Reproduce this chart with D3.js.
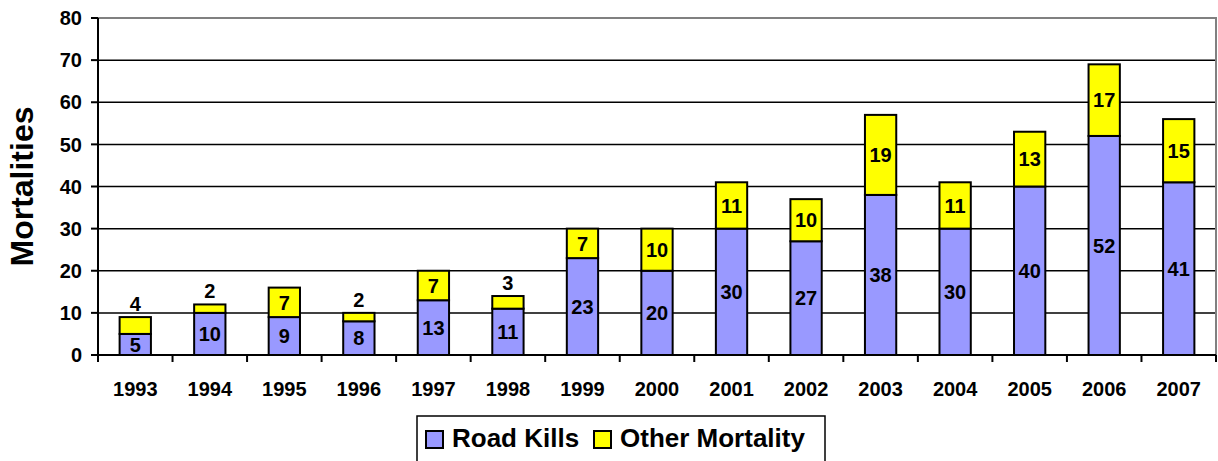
<!DOCTYPE html>
<html>
<head>
<meta charset="utf-8">
<script src="https://cdn.jsdelivr.net/npm/d3@7"></script>
<style>
  body { margin: 0; background: #fff; }
  text { font-family: "Liberation Sans", Arial, sans-serif; font-weight: bold; fill: #000; }
</style>
</head>
<body>
<div id="chart"></div>
<script>
// Data
const years = ['1993', '1994', '1995', '1996', '1997', '1998', '1999', '2000',
               '2001', '2002', '2003', '2004', '2005', '2006', '2007'];
const roadKills = [5, 10, 9, 8, 13, 11, 23, 20, 30, 27, 38, 30, 40, 52, 41];
const otherMortality = [4, 2, 7, 2, 7, 3, 7, 10, 11, 10, 19, 11, 13, 17, 15];
const yTicks = [0, 10, 20, 30, 40, 50, 60, 70, 80];

const width = 1218, height = 461;
const margin = { left: 98, right: 2, top: 18, bottom: 106 };
const innerW = width - margin.left - margin.right;
const innerH = height - margin.top - margin.bottom;

const svg = d3.select('#chart').append('svg')
    .attr('width', width)
    .attr('height', height);

const g = svg.append('g')
    .attr('transform', `translate(${margin.left},${margin.top})`);

const x = d3.scaleBand().domain(years).range([0, innerW]).paddingInner(0.58).paddingOuter(0.29);
const y = d3.scaleLinear().domain([0, 80]).range([innerH, 0]);

// Gridlines
g.selectAll('.grid')
    .data(yTicks.filter(d => d > 0 && d < 80))
    .enter().append('line')
    .attr('x1', 0).attr('x2', innerW)
    .attr('y1', d => y(d)).attr('y2', d => y(d))
    .attr('stroke', '#000').attr('stroke-width', 1.5);

// Plot border top/right (grey)
g.append('path')
    .attr('d', `M0,${y(80)}H${innerW}V${innerH}`)
    .attr('fill', 'none').attr('stroke', '#808080').attr('stroke-width', 2);

// Stacked data
const stacked = years.map((yr, i) => ({
    year: yr, road: roadKills[i], other: otherMortality[i]
}));

const bw = x.bandwidth();
const labelSize = '20px';

// Road kill bars
g.selectAll('.road')
    .data(stacked)
    .enter().append('rect')
    .attr('x', d => x(d.year))
    .attr('y', d => y(d.road))
    .attr('width', bw)
    .attr('height', d => y(0) - y(d.road))
    .attr('fill', '#9999ff')
    .attr('stroke', '#000').attr('stroke-width', 2);

// Other mortality bars
g.selectAll('.other')
    .data(stacked)
    .enter().append('rect')
    .attr('x', d => x(d.year))
    .attr('y', d => y(d.road + d.other))
    .attr('width', bw)
    .attr('height', d => y(d.road) - y(d.road + d.other))
    .attr('fill', '#ffff00')
    .attr('stroke', '#000').attr('stroke-width', 2);

// Labels
g.selectAll('.roadLabel')
    .data(stacked)
    .enter().append('text')
    .attr('x', d => x(d.year) + bw / 2)
    .attr('y', d => (y(0) + y(d.road)) / 2)
    .attr('dy', '0.36em')
    .attr('text-anchor', 'middle')
    .style('font-size', labelSize)
    .text(d => d.road);

g.selectAll('.otherLabel')
    .data(stacked)
    .enter().append('text')
    .attr('x', d => x(d.year) + bw / 2)
    .attr('y', d => d.other < 5
        ? y(d.road + d.other) - 6
        : (y(d.road) + y(d.road + d.other)) / 2)
    .attr('dy', d => d.other < 5 ? 0 : '0.36em')
    .attr('text-anchor', 'middle')
    .style('font-size', labelSize)
    .text(d => d.other);

// Y axis
g.append('line')
    .attr('x1', 0).attr('x2', 0).attr('y1', 0).attr('y2', innerH)
    .attr('stroke', '#000').attr('stroke-width', 2);
g.selectAll('.ytick')
    .data(yTicks)
    .enter().append('line')
    .attr('x1', -7).attr('x2', 0)
    .attr('y1', d => y(d)).attr('y2', d => y(d))
    .attr('stroke', '#000').attr('stroke-width', 2);
g.selectAll('.ylabel')
    .data(yTicks)
    .enter().append('text')
    .attr('x', -16)
    .attr('y', d => y(d))
    .attr('dy', '0.36em')
    .attr('text-anchor', 'end')
    .style('font-size', labelSize)
    .text(d => d);

// X axis
g.append('line')
    .attr('x1', 0).attr('x2', innerW).attr('y1', innerH).attr('y2', innerH)
    .attr('stroke', '#000').attr('stroke-width', 2);
const step = x.step();
g.selectAll('.xtick')
    .data(d3.range(years.length + 1))
    .enter().append('line')
    .attr('x1', i => i * step).attr('x2', i => i * step)
    .attr('y1', innerH).attr('y2', innerH + 7)
    .attr('stroke', '#000').attr('stroke-width', 2);
g.selectAll('.xlabel')
    .data(years)
    .enter().append('text')
    .attr('x', d => x(d) + bw / 2)
    .attr('y', innerH + 41)
    .attr('text-anchor', 'middle')
    .style('font-size', labelSize)
    .text(d => d);

// Y title
svg.append('text')
    .attr('transform', `translate(33,${margin.top + innerH / 2}) rotate(-90)`)
    .attr('text-anchor', 'middle')
    .style('font-size', '32px')
    .text('Mortalities');

// Legend
const legend = svg.append('g').attr('transform', 'translate(417,416)');
legend.append('rect')
    .attr('x', 0).attr('y', 0).attr('width', 408).attr('height', 50)
    .attr('fill', '#fff').attr('stroke', '#000').attr('stroke-width', 1.5);

const legendItems = [
    { name: 'Road Kills', color: '#9999ff', x: 9 },
    { name: 'Other Mortality', color: '#ffff00', x: 177 }
];
legendItems.forEach(d => {
    legend.append('rect')
        .attr('x', d.x).attr('y', 15)
        .attr('width', 17).attr('height', 17)
        .attr('fill', d.color)
        .attr('stroke', '#000').attr('stroke-width', 2);
    legend.append('text')
        .attr('x', d.x + 26).attr('y', 31)
        .style('font-size', '26px')
        .text(d.name);
});
</script>
</body>
</html>
